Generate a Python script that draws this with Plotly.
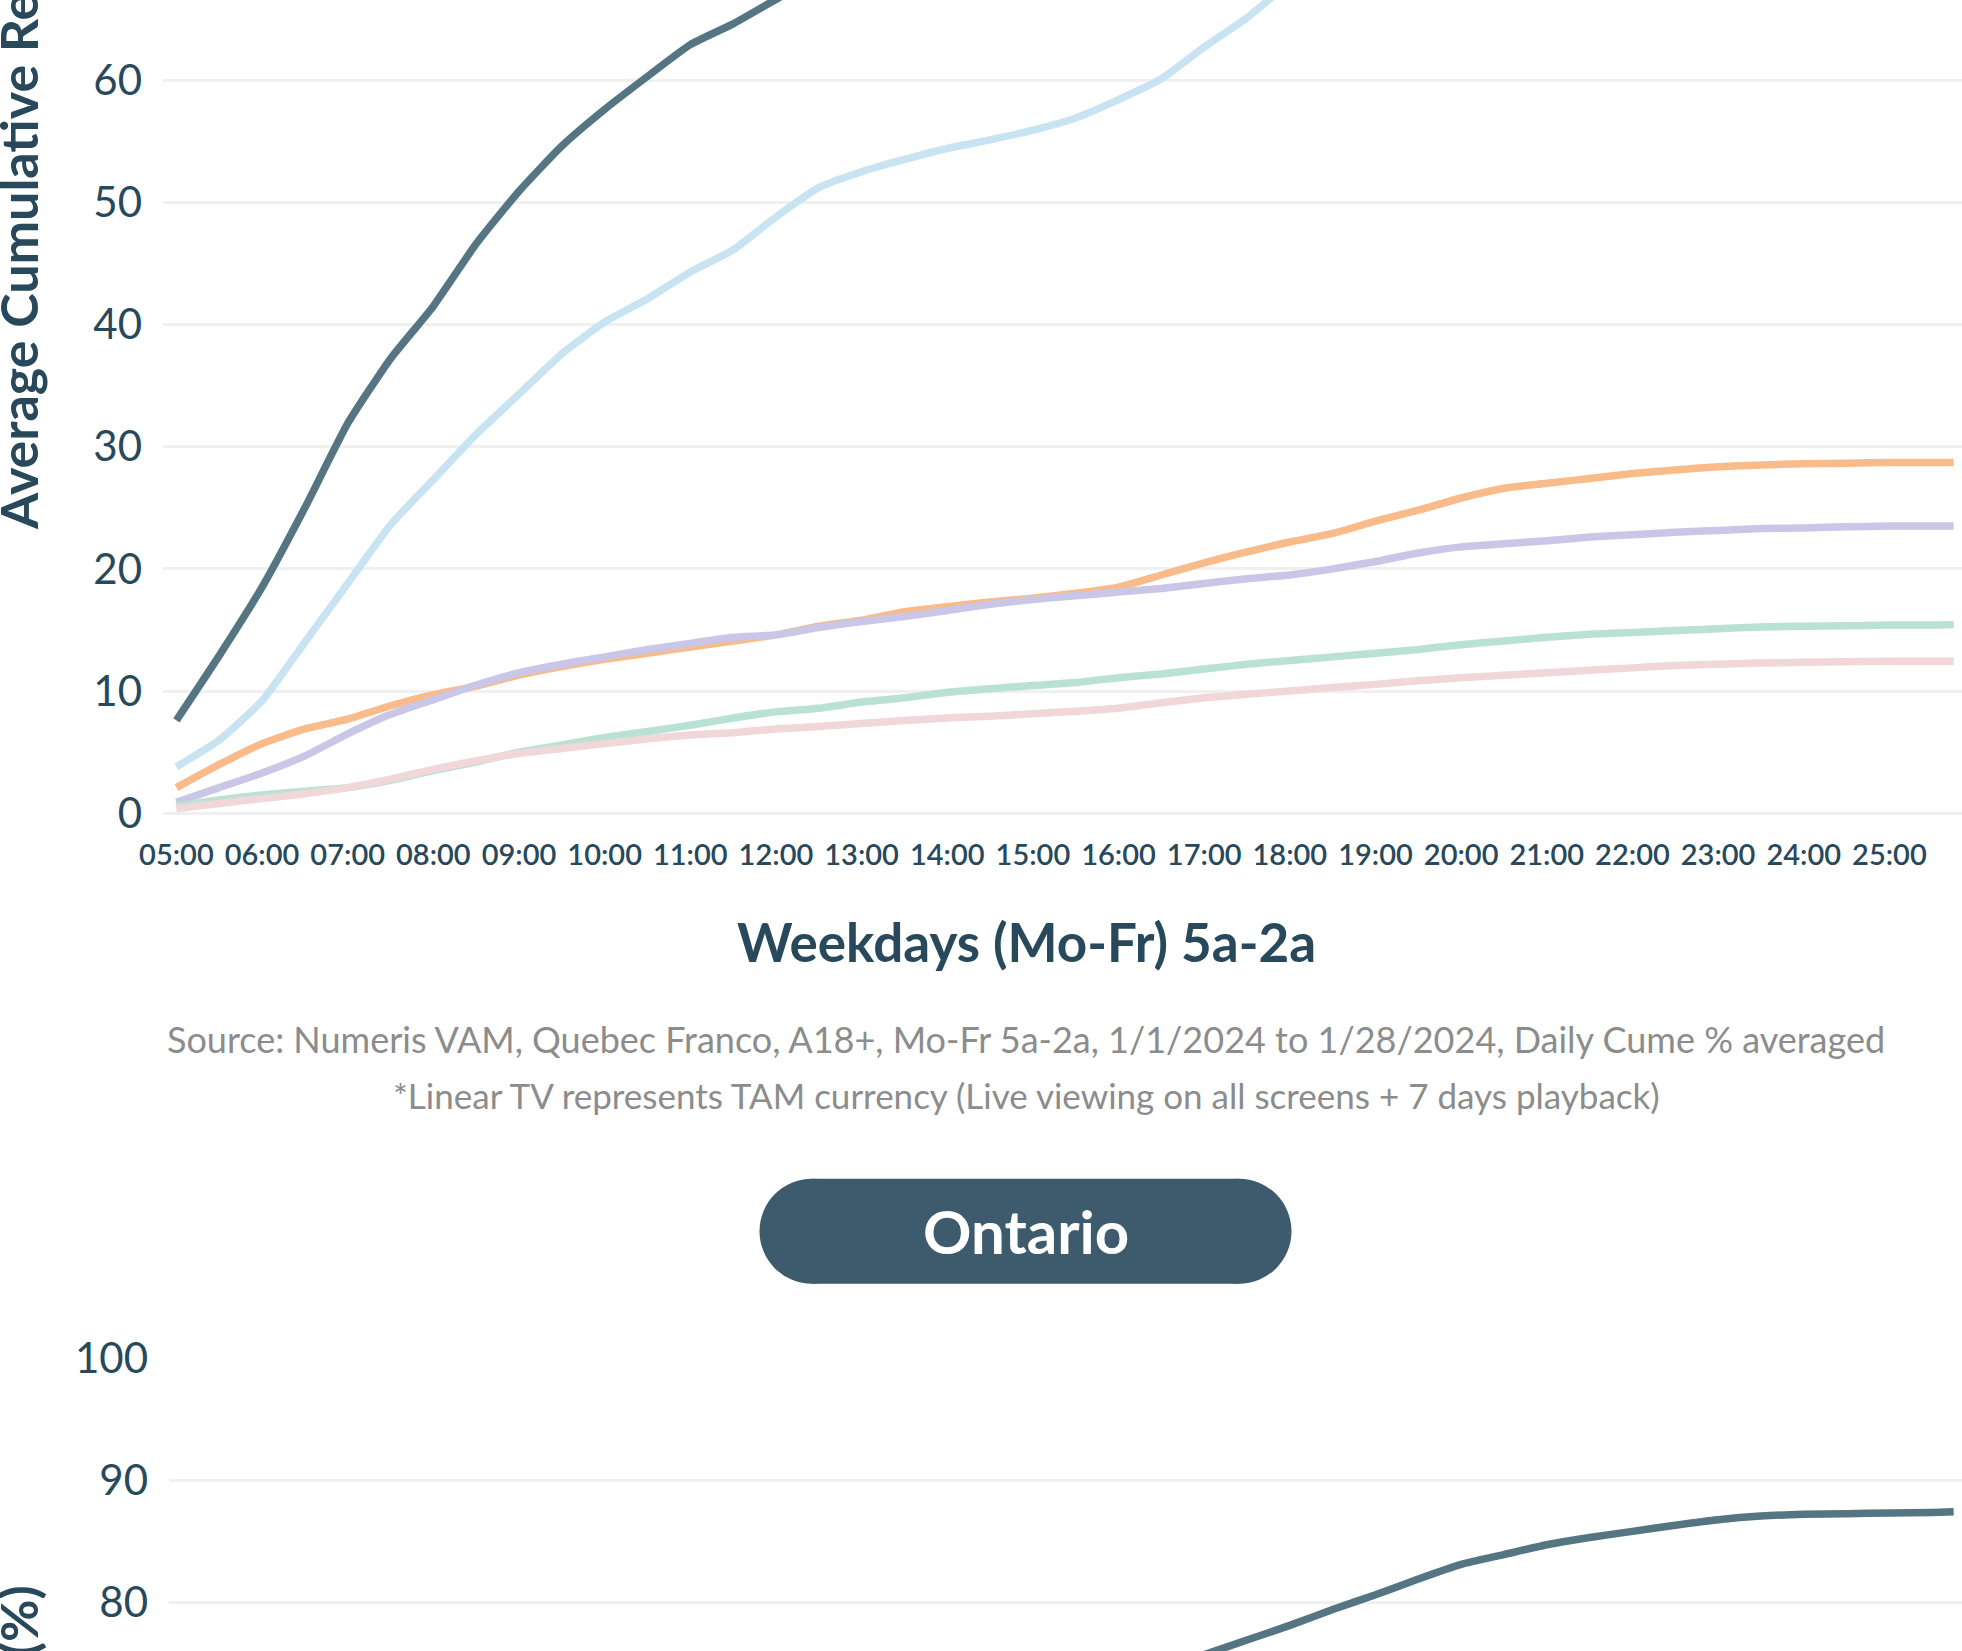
import plotly.graph_objects as go

W, H = 1962, 1651

# ---------------- data ----------------
hours = [5.0, 5.5, 6.0, 6.5, 7.0, 7.5, 8.0, 8.5, 9.0, 9.5, 10.0, 10.5, 11.0, 11.5,
         12.0, 12.5, 13.0, 13.5, 14.0, 14.5, 15.0, 15.5, 16.0, 16.5, 17.0, 17.5,
         18.0, 18.5, 19.0, 19.5, 20.0, 20.5, 21.0, 21.5, 22.0, 22.5, 23.0, 23.5,
         24.0, 24.5, 25.0, 25.5, 25.75]

tick_hours = [5, 6, 7, 8, 9, 10, 11, 12, 13, 14, 15, 16, 17, 18, 19, 20, 21, 22, 23, 24, 25]
tick_labels = ["05:00", "06:00", "07:00", "08:00", "09:00", "10:00", "11:00", "12:00",
               "13:00", "14:00", "15:00", "16:00", "17:00", "18:00", "19:00", "20:00",
               "21:00", "22:00", "23:00", "24:00", "25:00"]

quebec_dark = [7.6, 12.9, 18.5, 25.0, 31.9, 37.2, 41.5, 46.6, 50.9, 54.6, 57.6, 60.3, 62.9, 64.6,
               66.6, 68.6, 70.3, 72.0, 73.5, 74.8, 76.0, 77.2, 78.4, 79.6, 81.0, 82.3,
               83.5, 84.6, 85.6, 86.4, 87.1, 87.6, 88.0, 88.4, 88.7, 89.0, 89.2, 89.4,
               89.5, 89.6, 89.7, 89.7, 89.7]
quebec_lightblue = [3.8, 6.0, 9.2, 14.0, 18.8, 23.6, 27.3, 31.0, 34.3, 37.6, 40.2, 42.1, 44.3, 46.1,
                    48.8, 51.2, 52.5, 53.5, 54.4, 55.1, 55.9, 56.9, 58.4, 60.1, 62.7, 65.1,
                    68.0, 70.4, 72.4, 74.0, 75.4, 76.6, 77.6, 78.4, 79.1, 79.6, 80.0, 80.3,
                    80.5, 80.7, 80.8, 80.9, 80.9]
quebec_orange = [2.1, 4.0, 5.7, 6.9, 7.7, 8.8, 9.7, 10.4, 11.3, 12.0, 12.6, 13.1, 13.6, 14.1,
                 14.6, 15.3, 15.8, 16.5, 16.9, 17.3, 17.6, 18.0, 18.5, 19.5, 20.5, 21.4,
                 22.2, 22.9, 23.9, 24.8, 25.8, 26.6, 27.0, 27.4, 27.8, 28.1, 28.35, 28.5,
                 28.6, 28.65, 28.7, 28.7, 28.7]
quebec_lavender = [0.9, 2.1, 3.3, 4.7, 6.5, 8.1, 9.3, 10.5, 11.5, 12.2, 12.8, 13.4, 13.9, 14.4,
                   14.6, 15.2, 15.7, 16.1, 16.6, 17.1, 17.5, 17.8, 18.1, 18.4, 18.8, 19.2,
                   19.5, 20.0, 20.6, 21.3, 21.8, 22.05, 22.3, 22.6, 22.8, 23.0, 23.15, 23.3,
                   23.35, 23.45, 23.5, 23.5, 23.5]
quebec_green = [0.6, 1.1, 1.5, 1.8, 2.1, 2.7, 3.5, 4.2, 5.0, 5.6, 6.2, 6.7, 7.2, 7.8,
                8.3, 8.6, 9.1, 9.45, 9.9, 10.2, 10.45, 10.7, 11.1, 11.4, 11.8, 12.2,
                12.5, 12.8, 13.1, 13.4, 13.8, 14.1, 14.4, 14.65, 14.8, 14.95, 15.1, 15.25,
                15.3, 15.35, 15.4, 15.4, 15.45]
quebec_pink = [0.4, 0.8, 1.2, 1.6, 2.1, 2.8, 3.6, 4.3, 4.9, 5.3, 5.7, 6.1, 6.4, 6.6,
               6.9, 7.1, 7.35, 7.6, 7.8, 7.95, 8.15, 8.35, 8.6, 9.05, 9.45, 9.75,
               10.0, 10.3, 10.55, 10.85, 11.1, 11.3, 11.5, 11.7, 11.9, 12.1, 12.2, 12.3,
               12.35, 12.4, 12.45, 12.45, 12.45]

ontario_hours = [16.0, 16.5, 17.0, 17.5, 18.0, 18.5, 19.0, 19.5, 20.0, 20.5, 21.0, 21.5,
                 22.0, 22.5, 23.0, 23.5, 24.0, 24.5, 25.0, 25.5, 25.75]
ontario_dark = [73.3, 74.5, 75.7, 76.9, 78.1, 79.4, 80.6, 81.9, 83.1, 83.9, 84.7, 85.3,
                85.8, 86.3, 86.75, 87.05, 87.2, 87.25, 87.3, 87.35, 87.4]

# ---------------- styles ----------------
FONT = "Lato"
C_DARK = "#557583"
C_LBLUE = "#c8e3f1"
C_ORANGE = "#f9bb8a"
C_LAV = "#c9c6e8"
C_GREEN = "#b9e2d4"
C_PINK = "#f1d6da"
C_TEXT = "#27495b"
C_GRID = "#f0f0f0"
LW = 7.5


def px(x):
    return x / W


def py(y):
    return 1 - y / H


fig = go.Figure()

top_series = [
    ("Quebec dark", quebec_dark, C_DARK),
    ("Quebec light blue", quebec_lightblue, C_LBLUE),
    ("Quebec orange", quebec_orange, C_ORANGE),
    ("Quebec lavender", quebec_lavender, C_LAV),
    ("Quebec green", quebec_green, C_GREEN),
    ("Quebec pink", quebec_pink, C_PINK),
]
for name, vals, col in top_series:
    fig.add_trace(go.Scatter(x=hours, y=vals, mode="lines", name=name,
                             line=dict(color=col, width=LW, shape="spline", smoothing=0.5),
                             xaxis="x", yaxis="y", showlegend=False))

fig.add_trace(go.Scatter(x=ontario_hours, y=ontario_dark, mode="lines", name="Ontario dark",
                         line=dict(color=C_DARK, width=LW, shape="spline", smoothing=0.5),
                         xaxis="x2", yaxis="y2", showlegend=False))

hour_px = 85.65
x0_px = 176.4


def xrange_for(left_px):
    return [5 + (left_px - x0_px) / hour_px, 5 + (W - x0_px) / hour_px]


top_bottom_px = 813.3
bot_top_px = 1358.0

fig.update_layout(
    width=W, height=H, autosize=False,
    margin=dict(l=0, r=0, t=0, b=0, pad=0, autoexpand=False),
    paper_bgcolor="white", plot_bgcolor="white",
    xaxis=dict(domain=[px(163), 1.0], range=xrange_for(163), tickvals=tick_hours,
               ticktext=tick_labels, showgrid=False, zeroline=False, showline=False,
               ticks="", ticklabelstandoff=22, automargin=False,
               tickfont=dict(family=FONT, size=29, color=C_TEXT, weight=600)),
    yaxis=dict(domain=[py(top_bottom_px), 1.0], range=[0, 66.55], dtick=10, tick0=0,
               showgrid=True, gridcolor=C_GRID, gridwidth=2.5, zeroline=True,
               zerolinecolor=C_GRID, zerolinewidth=2.5, showline=False, ticks="",
               ticklabelstandoff=20, automargin=False,
               tickfont=dict(family=FONT, size=42, color=C_TEXT)),
    xaxis2=dict(domain=[px(169), 1.0], range=xrange_for(169), anchor="y2",
                tickvals=tick_hours, ticktext=tick_labels, showgrid=False, zeroline=False,
                showline=False, showticklabels=False, ticks="", automargin=False),
    yaxis2=dict(domain=[0.0, py(bot_top_px)], range=[76.0, 100.0], dtick=10, tick0=0,
                anchor="x2", showgrid=True, gridcolor=C_GRID, gridwidth=2.5, zeroline=False,
                showline=False, ticks="", ticklabelstandoff=20, automargin=False,
                tickfont=dict(family=FONT, size=42, color=C_TEXT)),
)

# Ontario pill
pill_l, pill_r, pill_t, pill_b = 759.5, 1291.5, 1178.7, 1283.8
rad = (pill_b - pill_t) / 2
PILL = "#3d5b6c"
fig.add_shape(type="rect", xref="paper", yref="paper", x0=px(pill_l + rad), x1=px(pill_r - rad),
              y0=py(pill_b), y1=py(pill_t), fillcolor=PILL, line=dict(width=0))
fig.add_shape(type="circle", xref="paper", yref="paper", x0=px(pill_l), x1=px(pill_l + 2 * rad),
              y0=py(pill_b), y1=py(pill_t), fillcolor=PILL, line=dict(width=0))
fig.add_shape(type="circle", xref="paper", yref="paper", x0=px(pill_r - 2 * rad), x1=px(pill_r),
              y0=py(pill_b), y1=py(pill_t), fillcolor=PILL, line=dict(width=0))

annotations = [
    dict(text="Ontario", x=px(1025.5), y=py(1231), xanchor="center", yanchor="middle",
         font=dict(family=FONT, size=60, color="white", weight="bold")),
    dict(text="Weekdays (Mo-Fr) 5a-2a", x=px(1026), y=py(941), xanchor="center", yanchor="middle",
         font=dict(family=FONT, size=53, color=C_TEXT, weight="bold")),
    dict(text="Source: Numeris VAM, Quebec Franco, A18+, Mo-Fr 5a-2a, 1/1/2024 to 1/28/2024, Daily Cume % averaged",
         x=px(1026), y=py(1039), xanchor="center", yanchor="middle",
         font=dict(family=FONT, size=36, color="#8c8c8c")),
    dict(text="*Linear TV represents TAM currency (Live viewing on all screens + 7 days playback)",
         x=px(1026), y=py(1095), xanchor="center", yanchor="middle",
         font=dict(family=FONT, size=35, color="#8c8c8c")),
    dict(text="Average Cumulative Reach (%)", textangle=-90, x=px(18), y=py(532),
         xanchor="center", yanchor="bottom",
         font=dict(family=FONT, size=52, color=C_TEXT, weight="bold")),
    dict(text="Average Cumulative Reach (%)", textangle=-90, x=px(18), y=py(1583),
         xanchor="center", yanchor="top",
         font=dict(family=FONT, size=52, color=C_TEXT, weight="bold")),
]
for a in annotations:
    a.update(xref="paper", yref="paper", showarrow=False)
    fig.add_annotation(**a)

fig.write_html("out.html")
